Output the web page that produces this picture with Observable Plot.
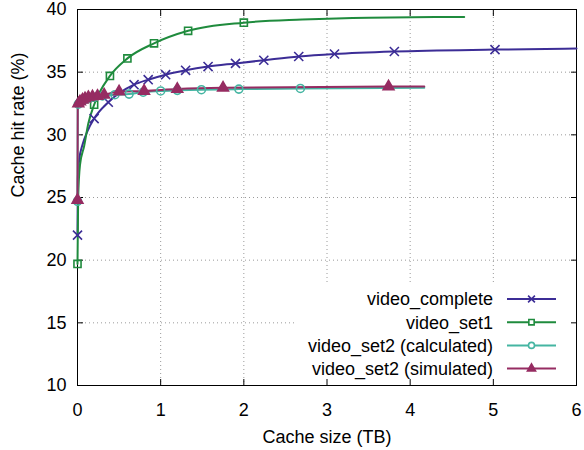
<!DOCTYPE html>
<html>
<head>
<meta charset="utf-8">
<script src="https://cdn.jsdelivr.net/npm/d3@7"></script>
<script src="https://cdn.jsdelivr.net/npm/@observablehq/plot@0.6"></script>
<style>
  html, body { margin: 0; padding: 0; background: #fff; }
  #chart { width: 584px; height: 450px; }
  svg { font-family: "Liberation Sans", Arial, sans-serif; }
</style>
</head>
<body>
<div id="chart"></div>
<script>
// ---- data ----
const seriesNames = ["video_complete", "video_set1", "video_set2 (calculated)", "video_set2 (simulated)"];
const seriesColors = ["#3c2d96", "#1f8b3d", "#45b5a2", "#962c62"];
const seriesSymbols = ["times", "square", "circle", "triangle"];

const completeX = [0, 0.004, 0.02, 0.06, 0.12, 0.2, 0.37, 0.68, 0.85, 1.06, 1.3, 1.57, 1.9, 2.24, 2.66, 3.09, 3.81, 5.02, 6.0];
const completeY = [22.0, 26.5, 28.0, 29.2, 30.3, 31.3, 32.6, 34.0, 34.4, 34.8, 35.15, 35.45, 35.7, 35.95, 36.25, 36.45, 36.65, 36.8, 36.88];
const completeMark = [1, 0, 0, 0, 0, 1, 1, 1, 1, 1, 1, 1, 1, 1, 1, 1, 1, 1, 0];

const set1X = [0, 0.008, 0.03, 0.08, 0.13, 0.2, 0.39, 0.6, 0.92, 1.33, 2.0, 2.7, 3.5, 4.65];
const set1Y = [19.7, 25.0, 27.6, 29.1, 30.9, 32.4, 34.7, 36.1, 37.3, 38.3, 38.95, 39.2, 39.35, 39.4];
const set1Mark = [1, 0, 0, 0, 0, 1, 1, 1, 1, 1, 1, 0, 0, 0];

const calcX = [0, 0.003, 0.01, 0.03, 0.06, 0.1, 0.15, 0.2, 0.3, 0.45, 0.62, 0.79, 1.0, 1.2, 1.49, 1.94, 2.68, 4.17];
const calcY = [24.7, 32.3, 32.45, 32.6, 32.75, 32.85, 32.95, 33.0, 33.1, 33.2, 33.25, 33.4, 33.5, 33.55, 33.6, 33.65, 33.7, 33.75];
const calcMark = [1, 0, 1, 1, 1, 1, 1, 1, 1, 1, 1, 1, 1, 1, 1, 1, 1, 0];

const simX = [0, 0.003, 0.01, 0.03, 0.06, 0.09, 0.13, 0.18, 0.24, 0.32, 0.5, 0.8, 1.2, 1.75, 3.74, 4.17];
const simY = [24.8, 32.4, 32.5, 32.65, 32.8, 32.9, 33.0, 33.05, 33.1, 33.2, 33.45, 33.5, 33.65, 33.75, 33.85, 33.85];
const simMark = [1, 0, 1, 1, 1, 1, 1, 1, 1, 1, 1, 1, 1, 1, 1, 0];

const xTicks = [0, 1, 2, 3, 4, 5, 6];
const yTicks = [10, 15, 20, 25, 30, 35, 40];
const xLabel = "Cache size (TB)";
const yLabel = "Cache hit rate (%)";

// ---- build table ----
function rows(name, xs, ys, marks) {
  return xs.map((x, i) => ({series: name, x, y: ys[i], mark: marks[i] === 1}));
}
const all = [
  ...rows(seriesNames[0], completeX, completeY, completeMark),
  ...rows(seriesNames[1], set1X, set1Y, set1Mark),
  ...rows(seriesNames[2], calcX, calcY, calcMark),
  ...rows(seriesNames[3], simX, simY, simMark)
];

const W = 584, H = 450;
const mL = 77, mR = 8, mT = 9, mB = 65;
const fs = 18;

const lineMarks = [];
const dotMarks = [];
seriesNames.forEach((name, i) => {
  const d = all.filter(r => r.series === name);
  lineMarks.push(Plot.line(d, {x: "x", y: "y", stroke: seriesColors[i], strokeWidth: 2, curve: "monotone-x"}));
  const m = d.filter(r => r.mark);
  const filled = seriesSymbols[i] === "triangle";
  dotMarks.push(Plot.dot(m, {
    x: "x", y: "y", symbol: () => seriesSymbols[i],
    r: seriesSymbols[i] === "times" ? 4.2 : 4,
    stroke: seriesColors[i], strokeWidth: 1.6,
    fill: filled ? seriesColors[i] : "none"
  }));
});

const gridStyle = {stroke: "#9a9a9a", strokeOpacity: 1, strokeDasharray: "1,3", strokeWidth: 1};

const plot = Plot.plot({
  width: W, height: H,
  marginLeft: mL, marginRight: mR, marginTop: mT, marginBottom: mB,
  style: {fontFamily: "'Liberation Sans', Arial, sans-serif", fontSize: fs + "px", color: "#000", background: "#fff"},
  x: {domain: [0, 6], ticks: xTicks},
  y: {domain: [10, 40], ticks: yTicks},
  marks: [
    Plot.gridX(xTicks.slice(1, -1), gridStyle),
    Plot.gridY(yTicks.slice(1, -1), gridStyle),
    Plot.frame({stroke: "#000", strokeWidth: 1}),
    Plot.axisX(xTicks, {anchor: "bottom", tickSize: -6, tickPadding: 24, label: null, fontSize: fs, stroke: "#000"}),
    Plot.axisX(xTicks, {anchor: "top", tickSize: -6, tickFormat: () => "", label: null}),
    Plot.axisY(yTicks, {anchor: "left", tickSize: -6, tickPadding: 17, label: null, fontSize: fs}),
    Plot.axisY(yTicks, {anchor: "right", tickSize: -6, tickFormat: () => "", label: null}),
    Plot.text([xLabel], {frameAnchor: "bottom", dy: 52, fontSize: fs, lineAnchor: "middle", fill: "#000"}),
    Plot.text([yLabel], {frameAnchor: "left", dx: -59, rotate: -90, fontSize: fs, lineAnchor: "middle", fill: "#000"}),
    ...lineMarks,
    ...dotMarks
  ]
});

document.getElementById("chart").appendChild(plot);

// ---- legend (inside bottom-right, opaque white box) ----
const svg = d3.select(plot);
const frameNode = plot.querySelector("[aria-label=frame]");
const bg = document.createElementNS("http://www.w3.org/2000/svg", "rect");
bg.setAttribute("x", 295);
bg.setAttribute("y", 285);
bg.setAttribute("width", W - mR - 295 - 0.5);
bg.setAttribute("height", H - mB - 285 - 0.5);
bg.setAttribute("fill", "#fff");
frameNode.parentNode.insertBefore(bg, frameNode);

const leg = svg.append("g").attr("aria-label", "legend");
const rowY0 = 299, rowDy = 23.2;
const textRight = 493, lineX1 = 507, lineX2 = 556;
seriesNames.forEach((name, i) => {
  const y = rowY0 + i * rowDy;
  leg.append("text")
    .attr("x", textRight).attr("y", y).attr("dy", "0.35em")
    .attr("text-anchor", "end").attr("font-size", fs).attr("fill", "#000")
    .text(name);
  leg.append("line")
    .attr("x1", lineX1).attr("x2", lineX2).attr("y1", y).attr("y2", y)
    .attr("stroke", seriesColors[i]).attr("stroke-width", 2);
  const sym = {times: d3.symbolTimes, square: d3.symbolSquare, circle: d3.symbolCircle, triangle: d3.symbolTriangle}[seriesSymbols[i]];
  const r = seriesSymbols[i] === "times" ? 3.2 : 3;
  leg.append("path")
    .attr("transform", `translate(${(lineX1 + lineX2) / 2},${y})`)
    .attr("d", d3.symbol(sym, Math.PI * r * r)())
    .attr("stroke", seriesColors[i]).attr("stroke-width", 1.6)
    .attr("fill", seriesSymbols[i] === "triangle" ? seriesColors[i] : (seriesSymbols[i] === "times" ? "none" : "#fff"));
});
</script>
</body>
</html>
